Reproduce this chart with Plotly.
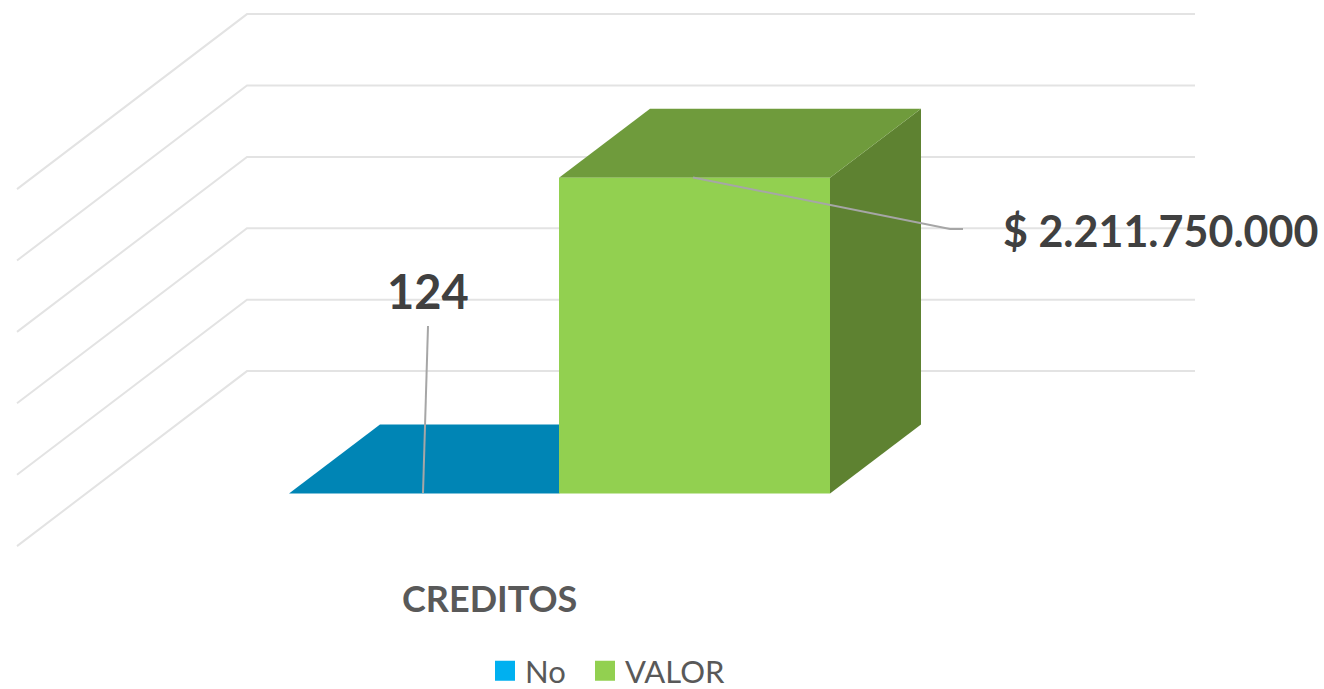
import plotly.graph_objects as go

categories = ["CREDITOS"]
series_names = ["No", "VALOR"]
series_values = [124, 2211750000]
value_labels = ["124", "$ 2.211.750.000"]
grid_values = [500000000, 1000000000, 1500000000, 2000000000, 2500000000, 3000000000]

face_colors = ["#00B0F0", "#92D050"]
top_colors = ["#0085B5", "#6F9B3C"]
side_colors = ["#00688F", "#5E8231"]

W, H = 1324, 689
BASE_PX = 493.5
PX_PER_VALUE = 71.4 / 500000000
DEPTH_DX, DEPTH_DY = 91.0, 69.0     # bar depth in pixels
WALL_DY = 51.0                      # front baseline to back wall foot
WALL_X0, WALL_X1, WALL_LEFT = 247.0, 1195.0, 17.0
WALL_SLOPE = 175.0 / 230.0
BAR_LEFT = [289.0, 559.0]
BAR_WIDTH = [270.0, 271.0]
FONT = "Lato, Carlito, sans-serif"


def val(px):
    """pixel row in the figure -> value on the axis"""
    return (BASE_PX - px) / PX_PER_VALUE


dy_val = DEPTH_DY / PX_PER_VALUE
wall_val = WALL_DY / PX_PER_VALUE
side_val = (WALL_X0 - WALL_LEFT) * WALL_SLOPE / PX_PER_VALUE

fig = go.Figure()

# walls
for g in grid_values:
    fig.add_trace(go.Scatter(
        x=[WALL_LEFT, WALL_X0, WALL_X1],
        y=[g + wall_val - side_val, g + wall_val, g + wall_val],
        mode="lines", line=dict(color="#E3E3E3", width=2),
        showlegend=False, hoverinfo="skip"))

# bars: top, side and front faces, back to front
for i, name in enumerate(series_names):
    v = series_values[i]
    x0, w = BAR_LEFT[i], BAR_WIDTH[i]
    x1 = x0 + w
    fig.add_trace(go.Scatter(
        x=[x1, x1 + DEPTH_DX, x1 + DEPTH_DX, x1, x1],
        y=[0, dy_val, v + dy_val, v, 0],
        mode="lines", line=dict(width=0), fill="toself",
        fillcolor=side_colors[i], showlegend=False, hoverinfo="skip"))
    fig.add_trace(go.Scatter(
        x=[x0, x1, x1 + DEPTH_DX, x0 + DEPTH_DX, x0],
        y=[v, v, v + dy_val, v + dy_val, v],
        mode="lines", line=dict(width=0), fill="toself",
        fillcolor=top_colors[i], showlegend=False, hoverinfo="skip"))
    fig.add_trace(go.Scatter(
        x=[x0, x1, x1, x0, x0],
        y=[0, 0, v, v, 0],
        mode="lines", line=dict(width=0), fill="toself",
        fillcolor=face_colors[i], showlegend=False, name=name,
        hoverinfo="skip"))

# leader lines
fig.add_trace(go.Scatter(
    x=[423, 428], y=[val(493), val(326)], mode="lines",
    line=dict(color="#A6A6A6", width=2), showlegend=False, hoverinfo="skip"))
fig.add_trace(go.Scatter(
    x=[693, 950, 963], y=[val(177.5), val(229), val(229)], mode="lines",
    line=dict(color="#A6A6A6", width=2), showlegend=False, hoverinfo="skip"))

# legend keys, one native legend per series so each sits where the reference has it
legend_ids = ["legend", "legend2"]
for i, name in enumerate(series_names):
    fig.add_trace(go.Scatter(
        x=[None], y=[None], mode="markers", name=name, legend=legend_ids[i],
        marker=dict(symbol="square", size=16, color=face_colors[i],
                    line=dict(color=face_colors[i], width=4))))

fig.add_annotation(x=428, y=val(291), text="<b>" + value_labels[0] + "</b>",
                   showarrow=False, font=dict(family=FONT, size=47, color="#404040"))
fig.add_annotation(x=1160.5, y=val(230), text="<b>" + value_labels[1] + "</b>",
                   showarrow=False, font=dict(family=FONT, size=43, color="#404040"))
fig.add_annotation(x=489, y=val(598), text="<b>" + categories[0] + "</b>",
                   showarrow=False, font=dict(family=FONT, size=36, color="#595959"))

legend_common = dict(orientation="h", xanchor="left", yanchor="middle", y=1 - 671 / H,
                     font=dict(family=FONT, size=31, color="#595959"),
                     bgcolor="rgba(0,0,0,0)", itemclick=False, itemdoubleclick=False)

fig.update_layout(
    width=W, height=H, margin=dict(l=0, r=0, t=0, b=0, autoexpand=False),
    paper_bgcolor="white", plot_bgcolor="white",
    xaxis=dict(range=[0, W], visible=False, fixedrange=True),
    yaxis=dict(range=[val(H), val(0)], visible=False, fixedrange=True),
    legend=dict(x=485 / W, **legend_common),
    legend2=dict(x=585 / W, **legend_common),
)

fig.write_html("out.html", config=dict(displayModeBar=False),
               post_script="document.body.style.margin='0';")
